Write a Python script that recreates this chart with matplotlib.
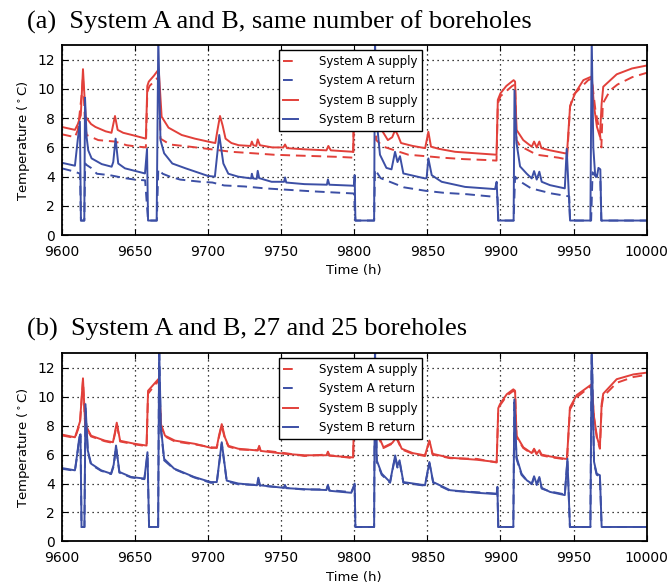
import matplotlib
matplotlib.use("Agg")
import matplotlib.pyplot as plt

# colours / labels
red = "#e2403a"
blue = "#3c4fa5"
labels = ["System A supply", "System A return", "System B supply", "System B return"]
titles = ["(a)  System A and B, same number of boreholes",
          "(b)  System A and B, 27 and 25 boreholes"]

# ---------------- panel (a) ----------------
pa_bs_t = [9600, 9609, 9611, 9613, 9614.5, 9616.3, 9620, 9623, 9630, 9634, 9636.4, 9638.2, 9642, 9650,
           9657.5, 9658.5, 9659.5, 9663, 9666, 9666.5, 9668.3, 9673, 9682, 9691, 9700, 9705, 9706.5,
           9708.2, 9710, 9712, 9716, 9721, 9729, 9730, 9731, 9733, 9734, 9735.5, 9744, 9751.5, 9752.7,
           9754, 9766, 9781, 9782.3, 9784, 9799.3, 9800, 9807, 9814, 9815, 9817.5, 9823, 9826, 9828,
           9830, 9832, 9840, 9848.5, 9850.7, 9852.5, 9858, 9869, 9883, 9897.3, 9898.2, 9900, 9904,
           9909, 9910, 9911, 9915.6, 9921.4, 9923, 9924.8, 9926.6, 9928, 9934, 9944, 9945.5, 9947.6,
           9951, 9956.7, 9962.4, 9964, 9966, 9968, 9969.2, 9970.3, 9979.5, 9990, 10000]
pa_bs_v = [7.4, 7.2, 7.6, 8.2, 11.35, 8.1, 7.6, 7.4, 7.1, 7.0, 8.15, 7.2, 7.0, 6.8,
           6.6, 10.2, 10.5, 10.9, 11.3, 11.0, 8.1, 7.35, 6.85, 6.6, 6.4, 6.3, 7.2,
           8.15, 7.5, 6.6, 6.3, 6.15, 6.1, 6.4, 6.15, 6.1, 6.55, 6.15, 6.0, 6.0, 6.2,
           5.95, 5.87, 5.8, 6.1, 5.8, 5.7, 10.0, 10.5, 10.8, 8.0, 7.4, 6.5, 6.7, 7.2,
           6.8, 6.3, 6.1, 5.95, 7.07, 6.05, 5.9, 5.7, 5.6, 5.5, 9.25, 9.7, 10.2,
           10.6, 10.5, 7.2, 6.5, 6.05, 6.4, 6.0, 6.4, 5.95, 5.8, 5.6, 5.6, 8.8,
           9.7, 10.6, 10.85, 8.8, 7.4, 6.75, 9.0, 10.15, 11.0, 11.4, 11.6]

pa_br_t = [9600, 9609, 9610.9, 9612.4, 9613.1, 9615.4, 9615.9, 9617, 9618.1, 9620.4, 9627.3, 9634.1,
           9635.2, 9636.8, 9638.6, 9643.2, 9656.9, 9658.3, 9659, 9664.9, 9666, 9667.5, 9670, 9675.6,
           9684.7, 9700, 9704.7, 9707.7, 9710.5, 9713.9, 9720.7, 9729.5, 9730, 9730.8, 9733.3, 9734,
           9735, 9743.5, 9752, 9752.7, 9753.5, 9766, 9781.3, 9782, 9783, 9799.8, 9800.3, 9800.8,
           9813.6, 9814.2, 9815.2, 9817.6, 9822, 9825.5, 9827.9, 9829.6, 9831.3, 9833.6, 9848.4,
           9849.5, 9850.7, 9853, 9859.8, 9875.8, 9896.3, 9897.4, 9898.5, 9909, 9909.6, 9911, 9913.4,
           9918, 9921.4, 9923, 9924.8, 9926.6, 9928.2, 9933.9, 9944, 9945.3, 9947.6, 9961.5, 9962.4,
           9963.5, 9964.7, 9966, 9967, 9968.3, 9969, 10000]
pa_br_v = [4.95, 4.75, 6.5, 7.76, 1.0, 1.0, 9.4, 6.7, 5.8, 5.25, 4.86, 4.68,
           5.0, 6.6, 4.9, 4.57, 4.22, 5.9, 1.0, 1.0, 13.5, 6.5, 5.6, 4.9,
           4.57, 4.05, 4.0, 6.85, 4.9, 4.2, 4.0, 3.88, 4.2, 3.88, 3.85, 4.4,
           3.9, 3.65, 3.65, 3.95, 3.6, 3.49, 3.45, 3.81, 3.45, 3.38, 4.1, 1.0,
           1.0, 13.5, 8.0, 5.5, 4.6, 4.5, 5.7, 5.0, 5.4, 4.22, 3.88,
           3.9, 5.25, 4.1, 3.65, 3.3, 3.15, 3.65, 1.0, 1.0, 9.9, 6.3, 4.7,
           4.2, 3.88, 4.38, 3.8, 4.34, 3.65, 3.42, 3.2, 5.9, 1.0, 1.0, 13.5,
           6.0, 4.2, 4.0, 4.6, 4.5, 1.0, 1.0]

pa_as_t = [9600, 9609, 9611, 9613.5, 9614.5, 9616, 9617, 9625, 9636.4, 9644.4, 9652.3, 9657.5, 9658.5,
           9660, 9666, 9666.5, 9667.5, 9674, 9687.6, 9700, 9716, 9731, 9745, 9759, 9775, 9790, 9799.3,
           9800, 9814, 9815, 9820, 9837, 9849, 9860, 9875, 9890, 9897.3, 9898.2, 9900, 9908, 9910,
           9911, 9913.4, 9924.8, 9939.6, 9945.5, 9947.6, 9950, 9960, 9962.4, 9965, 9968, 9969, 9970,
           9975, 9980, 9990, 10000]
pa_as_v = [6.9, 6.7, 7.2, 9.5, 10.8, 7.5, 6.85, 6.5, 6.4, 6.15, 6.05, 6.0, 9.8,
           10.2, 10.8, 10.6, 6.6, 6.2, 6.05, 5.9, 5.7, 5.6, 5.5, 5.45, 5.4, 5.35, 5.3,
           9.8, 10.6, 6.5, 6.05, 5.5, 5.4, 5.3, 5.2, 5.14, 5.1, 9.0, 9.5, 10.2, 10.3,
           6.5, 6.1, 5.5, 5.3, 5.18, 8.8, 9.6, 10.6, 10.7, 8.5, 7.0, 6.0, 9.0,
           9.9, 10.3, 10.8, 11.1]

pa_ar_t = [9600, 9609, 9612.5, 9613.1, 9615.4, 9616, 9617, 9620, 9624, 9633, 9643, 9650, 9657, 9659,
           9665, 9666, 9669, 9674, 9681, 9695, 9703, 9711, 9725, 9739, 9755, 9771, 9790, 9799.8,
           9800.8, 9813.6, 9814.2, 9818, 9834, 9849, 9861, 9877, 9893, 9898, 9898.5, 9909, 9910,
           9913, 9921, 9935, 9944, 9947, 9947.6, 9962, 9963, 9966, 9968.3, 9969, 10000]
pa_ar_v = [4.57, 4.34, 4.2, 1.0, 1.0, 4.9, 4.8, 4.6, 4.2, 4.1, 3.9, 3.8, 3.75, 1.0,
           1.0, 4.5, 4.2, 4.0, 3.8, 3.65, 3.6, 3.4, 3.33, 3.2, 3.1, 3.0, 2.9, 2.85,
           1.0, 1.0, 4.5, 3.9, 3.27, 3.03, 2.9, 2.8, 2.65, 2.6, 1.0, 1.0, 4.0,
           3.7, 3.2, 2.85, 2.7, 2.65, 1.0, 1.0, 4.3, 3.9, 3.8, 1.0, 1.0]

# ---------------- panel (b) ----------------
pb_sup_t = [9600, 9609, 9611, 9612.5, 9614.5, 9616, 9620, 9629.4, 9635, 9636.3, 9637.6, 9639.9, 9650,
            9658, 9659, 9666, 9666.6, 9667.8, 9670.6, 9677.4, 9691, 9702.5, 9706, 9707.5, 9709.4,
            9711.5, 9714, 9720.7, 9734, 9735, 9736, 9752.6, 9766, 9781, 9782, 9783, 9799.3, 9800,
            9814, 9815, 9817, 9820, 9826, 9829, 9832.5, 9840, 9848.4, 9851.4, 9853.6, 9865.5,
            9883.8, 9897.4, 9898.5, 9899.7, 9904.3, 9908.8, 9910, 9911, 9915.6, 9921.4, 9923,
            9924.8, 9926.6, 9928, 9933.9, 9944, 9945.5, 9947.5, 9952.1, 9959, 9962.4, 9964, 9966,
            9968, 9969.2, 9970.3, 9979.5, 9990.9, 10000]
pb_bs_v = [7.38, 7.19, 7.8, 8.3, 11.26, 8.1, 7.3, 6.96, 6.85, 7.5, 8.2, 6.95, 6.74,
           6.62, 10.4, 11.2, 10.8, 8.1, 7.3, 6.96, 6.74, 6.45, 6.5, 7.3, 8.1,
           7.2, 6.6, 6.4, 6.28, 6.6, 6.25, 6.05, 5.95, 5.95, 6.2, 5.92, 5.8, 10.0,
           10.8, 7.8, 7.2, 6.5, 6.8, 7.2, 6.4, 6.1, 5.94, 6.97, 6.05, 5.78,
           5.64, 5.48, 9.2, 9.48, 10.16, 10.5, 10.4, 7.3, 6.5, 6.1, 6.4,
           6.05, 6.3, 6.0, 5.87, 5.71, 5.7, 9.25, 10.1, 10.6, 10.85, 8.6, 7.2,
           6.5, 9.5, 10.2, 11.2, 11.53, 11.65]
pb_as_v = [7.32, 7.15, 7.7, 8.2, 11.1, 8.0, 7.25, 6.92, 6.8, 7.4, 8.1, 6.9, 6.7,
           6.58, 10.2, 11.1, 10.7, 8.0, 7.25, 6.9, 6.7, 6.5, 6.45, 7.2, 8.0,
           7.1, 6.55, 6.35, 6.3, 6.5, 6.3, 6.1, 5.9, 6.0, 6.15, 5.95, 5.75, 9.8,
           10.6, 7.7, 7.1, 6.45, 6.75, 7.1, 6.35, 6.05, 5.9, 6.9, 6.0, 5.75,
           5.7, 5.45, 9.1, 9.4, 10.05, 10.4, 10.3, 7.2, 6.45, 6.05, 6.35,
           6.0, 6.25, 5.95, 5.82, 5.68, 5.65, 9.1, 9.95, 10.5, 10.75, 8.5, 7.1,
           6.4, 9.3, 10.0, 10.95, 11.35, 11.5]

pb_ret_t = [9600, 9609, 9610.5, 9612, 9612.8, 9613.5, 9615.5, 9616.2, 9617.8, 9620, 9626.9, 9633.7,
            9635.5, 9637.1, 9639.4, 9647.4, 9656.5, 9658.6, 9659.7, 9665.9, 9666.6, 9667.7, 9670,
            9676.8, 9690.5, 9701.9, 9706, 9709.4, 9712.8, 9720.7, 9733.5, 9734.4, 9735.5, 9752,
            9752.6, 9753.5, 9766, 9781, 9782, 9783, 9798, 9800.3, 9800.8, 9813.6, 9814.2, 9815.4,
            9818.8, 9824.5, 9828, 9829.5, 9831, 9833.6, 9848.4, 9851.4, 9854, 9865.5, 9883.8,
            9897.4, 9897.9, 9898.5, 9908.8, 9909.5, 9911, 9914.4, 9918, 9921.4, 9923, 9924.8,
            9926.6, 9928.2, 9933.9, 9944, 9945.8, 9947.5, 9961.5, 9962.4, 9964, 9965.8, 9968,
            9969.2, 10000]
pb_br_v = [5.07, 4.91, 6.0, 7.2, 7.4, 1.0, 1.0, 9.48, 6.28, 5.37, 4.91, 4.68,
           5.3, 6.62, 4.8, 4.45, 4.34, 6.16, 1.0, 1.0, 13.5, 8.0, 5.7,
           5.03, 4.45, 4.1, 4.1, 6.85, 4.2, 4.0, 3.88, 4.4, 3.88, 3.7,
           3.9, 3.68, 3.61, 3.55, 3.9, 3.5, 3.36, 4.0, 1.0, 1.0, 13.5, 5.6,
           4.68, 4.1, 5.94, 5.2, 5.6, 4.1, 3.88, 5.48, 4.1, 3.54, 3.36,
           3.27, 3.77, 1.0, 1.0, 9.8, 5.82, 4.68, 4.22, 4.0, 4.5, 3.95,
           4.45, 3.7, 3.42, 3.2, 5.71, 1.0, 1.0, 13.5, 5.5, 4.68, 4.57,
           1.0, 1.0]
pb_ar_v = [5.02, 4.88, 5.9, 7.1, 7.3, 1.0, 1.0, 9.3, 6.2, 5.3, 4.88, 4.65,
           5.2, 6.5, 4.75, 4.42, 4.3, 6.0, 1.0, 1.0, 13.5, 7.8, 5.6,
           5.0, 4.42, 4.05, 4.05, 6.75, 4.15, 3.95, 3.9, 4.3, 3.85, 3.72,
           3.85, 3.7, 3.58, 3.6, 3.85, 3.55, 3.4, 3.9, 1.0, 1.0, 13.5, 5.5,
           4.6, 4.05, 5.85, 5.1, 5.5, 4.05, 3.85, 5.4, 4.05, 3.5, 3.4,
           3.3, 3.7, 1.0, 1.0, 9.6, 5.7, 4.6, 4.2, 3.95, 4.4, 3.9,
           4.35, 3.65, 3.45, 3.25, 5.6, 1.0, 1.0, 13.5, 5.4, 4.6, 4.5,
           1.0, 1.0]

panels = [
    [(pa_as_t, pa_as_v), (pa_ar_t, pa_ar_v), (pa_bs_t, pa_bs_v), (pa_br_t, pa_br_v)],
    [(pb_sup_t, pb_as_v), (pb_ret_t, pb_ar_v), (pb_sup_t, pb_bs_v), (pb_ret_t, pb_br_v)],
]

fig = plt.figure(figsize=(6.7, 5.85), dpi=100)
axes_rects = [[0.0922, 0.598, 0.873, 0.325], [0.0922, 0.0744, 0.873, 0.322]]
title_y = [0.962, 0.437]

for i, series in enumerate(panels):
    ax = fig.add_axes(axes_rects[i])
    styles = [(red, (0, (5, 3))), (blue, (0, (5, 3))), (red, "-"), (blue, "-")]
    for (t, v), (c, ls), lab in zip(series, styles, labels):
        ax.plot(t, v, color=c, linestyle=ls, linewidth=1.4, label=lab)
    ax.set_xlim(9600, 10000)
    ax.set_ylim(0, 13)
    ax.set_xticks(range(9600, 10001, 50))
    ax.set_yticks(range(0, 13, 2))
    ax.grid(True, color="k", linestyle=(0, (1, 3)), linewidth=0.9)
    ax.tick_params(direction="in", top=True, right=True, labelsize=10, length=4)
    ax.tick_params(axis="x", pad=7)
    ax.tick_params(axis="y", pad=5)
    for s in ax.spines.values():
        s.set_linewidth(1.3)
    ax.set_xlabel("Time (h)", fontsize=9.5, labelpad=4)
    ax.set_ylabel(r"Temperature ($^\circ$C)", fontsize=9.5)
    leg = ax.legend(loc="upper left", bbox_to_anchor=(0.371, 0.973), borderaxespad=0,
                    fontsize=8.5, handlelength=1.2, handletextpad=1.8, labelspacing=0.55,
                    fancybox=False, framealpha=1, edgecolor="k")
    leg.get_frame().set_linewidth(1.0)
    fig.text(0.04, title_y[i], titles[i], family="Liberation Serif", fontsize=19, va="center")

fig.savefig("out.png", dpi=100)
